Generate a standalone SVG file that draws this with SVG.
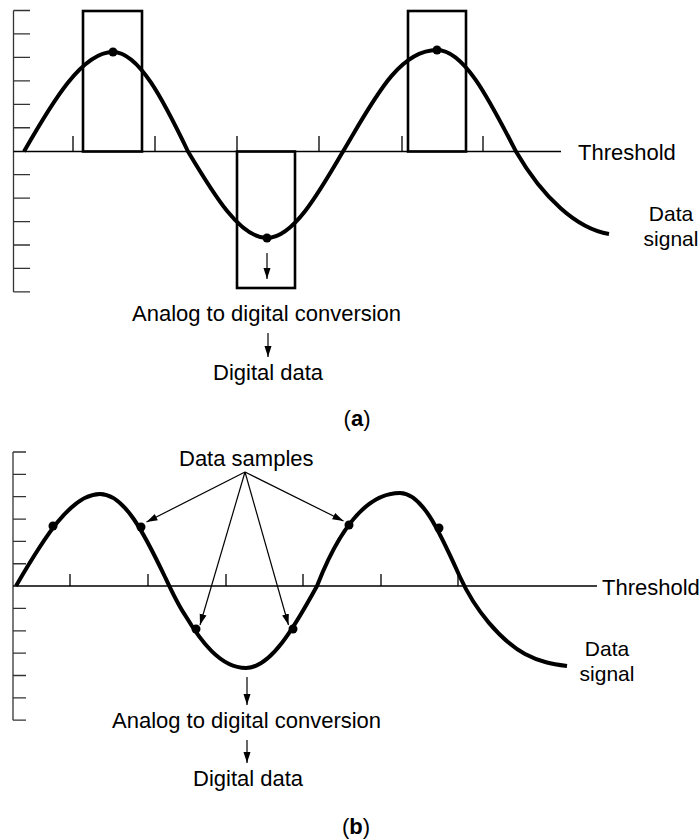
<svg xmlns="http://www.w3.org/2000/svg" width="700" height="840" viewBox="0 0 700 840">
<style>
.axis{stroke:#333;stroke-width:1.3;fill:none}
.thr{stroke:#000;stroke-width:1.3;fill:none}
.sig{stroke:#000;stroke-width:4;fill:none;stroke-linecap:butt}
.box{stroke:#000;stroke-width:2.6;fill:none}
.arr{stroke:#000;stroke-width:1.2;fill:none;marker-end:url(#ah)}
.dot{fill:#000}
text{font-family:"Liberation Sans",Arial,Helvetica,sans-serif;font-size:22px;fill:#000}
.lbl{font-size:21px}
</style>
<defs>
<marker id="ah" markerUnits="userSpaceOnUse" markerWidth="12" markerHeight="8" refX="11" refY="4" orient="auto">
<path d="M0,0.5 L11,4 L0,7.5 z" fill="#000"/>
</marker>
</defs>

<!-- Part (a) -->
<g id="axis-a">
<path class="axis" d="M13.5,10.5 V291.9 M13.5,10.5 H30 M13.5,33.95 H30 M13.5,57.4 H30 M13.5,80.85 H30 M13.5,104.3 H30 M13.5,127.75 H30 M13.5,174.65 H30 M13.5,198.1 H30 M13.5,221.55 H30 M13.5,245 H30 M13.5,268.45 H30 M13.5,291.9 H30"/>
</g>
<g id="threshold-a">
<path class="thr" d="M13.5,151.5 H561 M73,151.5 V136 M155,151.5 V136 M237,151.5 V136 M319,151.5 V136 M402,151.5 V136 M483,151.5 V136"/>
<text x="578" y="160">Threshold</text>
</g>
<g id="boxes-a">
<rect class="box" x="83" y="11" width="59" height="140.5"/>
<rect class="box" x="237" y="151.5" width="58" height="136.5"/>
<rect class="box" x="408" y="11" width="58" height="140.5"/>
</g>
<g id="signal-a">
<path class="sig" d="M24,151.5 C53,100.8 82.3,52 113,52 C138.9,52 163.6,100.8 188,151.5 C214,195 240,238 267,238 C292.9,238 318.3,194 343,151.5 C373.6,100 398.5,50 437,50 C464.3,50 489.3,100 516,151.5 C543,198 577,229 609,234"/>
<circle class="dot" cx="113" cy="52" r="4.5"/>
<circle class="dot" cx="267" cy="238" r="4.5"/>
<circle class="dot" cx="437" cy="50" r="4.5"/>
<text class="lbl" x="671" y="221" text-anchor="middle">Data</text>
<text class="lbl" x="671" y="246" text-anchor="middle">signal</text>
</g>
<g id="conversion-a">
<text x="132" y="321">Analog to digital conversion</text>
<text x="213" y="380">Digital data</text>
</g>
<g id="connectors-a">
<line class="arr" x1="267" y1="253" x2="267" y2="279"/>
<line class="arr" x1="268" y1="333" x2="268" y2="357"/>
</g>
<g id="label-a">
<text x="357" y="426" text-anchor="middle">(<tspan font-weight="bold">a</tspan>)</text>
</g>

<!-- Part (b) -->
<g id="axis-b">
<path class="axis" d="M13,452 V720.2 M13,452 H26 M13,474.35 H26 M13,496.7 H26 M13,519.05 H26 M13,541.4 H26 M13,563.75 H26 M13,608.45 H26 M13,630.8 H26 M13,653.15 H26 M13,675.5 H26 M13,697.85 H26 M13,720.2 H26"/>
</g>
<g id="threshold-b">
<path class="thr" d="M13,586 H597 M70,586 V574 M148,586 V574 M226,586 V574 M303,586 V574 M381,586 V574 M458,586 V574"/>
<text x="602" y="595">Threshold</text>
</g>
<g id="signal-b">
<path class="sig" d="M16,586 C43.4,538.9 71,494 100,494 C124.2,494 144,533 165,577 C172,592 178,605 185,615 C200,640 220,668 246,668 C270.5,668 293.9,628 317,586 C333,545 360,493 400,493 C422.5,493 440,533 460,577 C475,610 500,640 525,654 C540,662 552,664 567,666"/>
<circle class="dot" cx="53" cy="526" r="4.5"/>
<circle class="dot" cx="141" cy="527" r="4.5"/>
<circle class="dot" cx="196" cy="629" r="4.5"/>
<circle class="dot" cx="293" cy="629" r="4.5"/>
<circle class="dot" cx="349" cy="525" r="4.5"/>
<circle class="dot" cx="439" cy="528" r="4.5"/>
<text class="lbl" x="607" y="656" text-anchor="middle">Data</text>
<text class="lbl" x="607" y="681" text-anchor="middle">signal</text>
</g>
<g id="samples-b">
<text x="179" y="466">Data samples</text>
</g>
<g id="conversion-b">
<text x="112" y="728">Analog to digital conversion</text>
<text x="193" y="786">Digital data</text>
</g>
<g id="connectors-b">
<line class="arr" x1="245" y1="472" x2="146.5" y2="522"/>
<line class="arr" x1="245" y1="472" x2="200" y2="625"/>
<line class="arr" x1="245" y1="472" x2="288.5" y2="625"/>
<line class="arr" x1="245" y1="472" x2="343.5" y2="521"/>
<line class="arr" x1="247" y1="677" x2="247" y2="705"/>
<line class="arr" x1="247" y1="740" x2="247" y2="763"/>
</g>
<g id="label-b">
<text x="356" y="834" text-anchor="middle">(<tspan font-weight="bold">b</tspan>)</text>
</g>
</svg>
